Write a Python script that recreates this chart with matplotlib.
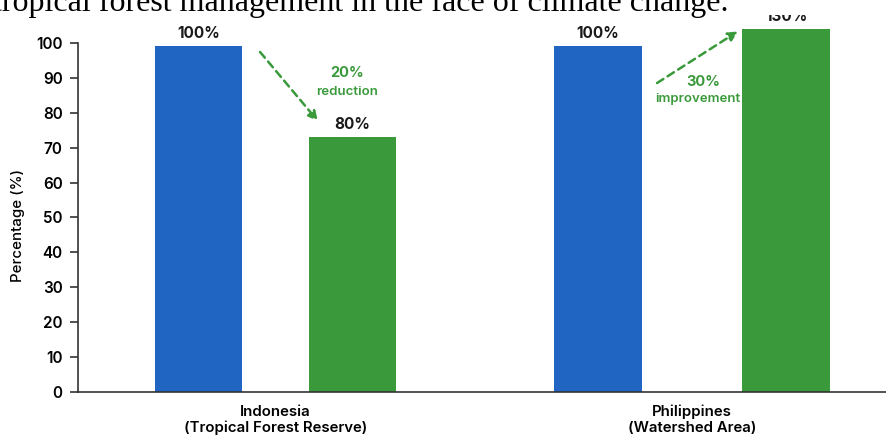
import numpy as np
import matplotlib
matplotlib.use('Agg')
import matplotlib.pyplot as plt
from matplotlib.patches import Rectangle

# data
groups = ['Indonesia\n(Tropical Forest Reserve)', 'Philippines\n(Watershed Area)']
before = [99, 99]
after = [73, 104]
before_labels = ['100%', '100%']
after_labels = ['80%', '130%']
change_pct = ['20%', '30%']
change_word = ['reduction', 'improvement']
yticks = list(range(0, 101, 10))
title = 'tropical forest management in the face of climate change.'

blue = '#1f65c1'
green = '#3a9a3b'
plt.rcParams['font.family'] = ['Inter', 'DejaVu Sans']

fig = plt.figure(figsize=(8.87, 4.37), dpi=100)
ax = fig.add_axes([78/887, 45/437, 809/887, 391/437])

x = np.arange(len(groups))
gap = np.array([0.185, 0.226])   # half distance between the two bars of a group
w = 0.21
ax.bar(x - gap, before, w, color=blue, clip_on=False)
ax.bar(x + gap, after, w, color=green, clip_on=False)

for i in range(len(groups)):
    ax.text(x[i] - gap[i], before[i] + 2.4, before_labels[i], ha='center', va='baseline',
            fontsize=11, fontweight='bold', color='#1a1a1a')
    ax.text(x[i] + gap[i], after[i] + 2.4, after_labels[i], ha='center', va='baseline',
            fontsize=11, fontweight='bold', color='#1a1a1a', clip_on=False)

# change arrows
arrow = dict(arrowstyle='-|>', color=green, lw=1.8, ls=(0, (3, 2)), mutation_scale=14,
             shrinkA=0, shrinkB=0)
ax.annotate('', xy=(0.102, 77.6), xytext=(-0.037, 97.4), arrowprops=arrow)
ax.text(0.172, 91.4, change_pct[0], ha='center', va='center', fontsize=10.5,
        fontweight='bold', color=green)
ax.text(0.172, 86.0, change_word[0], ha='center', va='center', fontsize=9.5,
        fontweight='semibold', color=green)

ax.annotate('', xy=(1.110, 103.3), xytext=(0.916, 88.5), arrowprops=arrow)
ax.text(1.026, 88.8, change_pct[1], ha='center', va='center', fontsize=10.5,
        fontweight='bold', color=green)
ax.text(1.014, 84.0, change_word[1], ha='center', va='center', fontsize=9.5,
        fontweight='semibold', color=green)

ax.set_xlim(-0.474, 1.468)
ax.set_ylim(0, 112)
ax.set_yticks(yticks)
ax.set_xticks(x)
ax.set_xticklabels(groups, fontsize=10.8, fontweight='semibold', linespacing=1.15)
ax.tick_params(axis='x', length=0, pad=9)
ax.tick_params(axis='y', length=6, width=1.2, labelsize=11, pad=5, color='#333333')
for t in ax.get_yticklabels():
    t.set_fontweight('semibold')
ax.set_ylabel('Percentage (%)', fontsize=10.8, fontweight='medium')
ax.yaxis.set_label_coords(-0.0655, 0.425)
ax.spines['top'].set_visible(False)
ax.spines['right'].set_visible(False)
ax.spines['left'].set_bounds(0, 100)
for s in ('left', 'bottom'):
    ax.spines[s].set_linewidth(1.2)
    ax.spines[s].set_color('#333333')

# document text strip over the cropped chart top
fig.add_artist(Rectangle((0, 1 - 15/437), 1, 15/437, transform=fig.transFigure,
                         facecolor='white', edgecolor='none', zorder=10))
fig.text(-7/887, 1 - 11/437, title, family='Liberation Serif', fontsize=23,
         va='baseline', ha='left', zorder=11)

fig.savefig('out.png', dpi=100)
